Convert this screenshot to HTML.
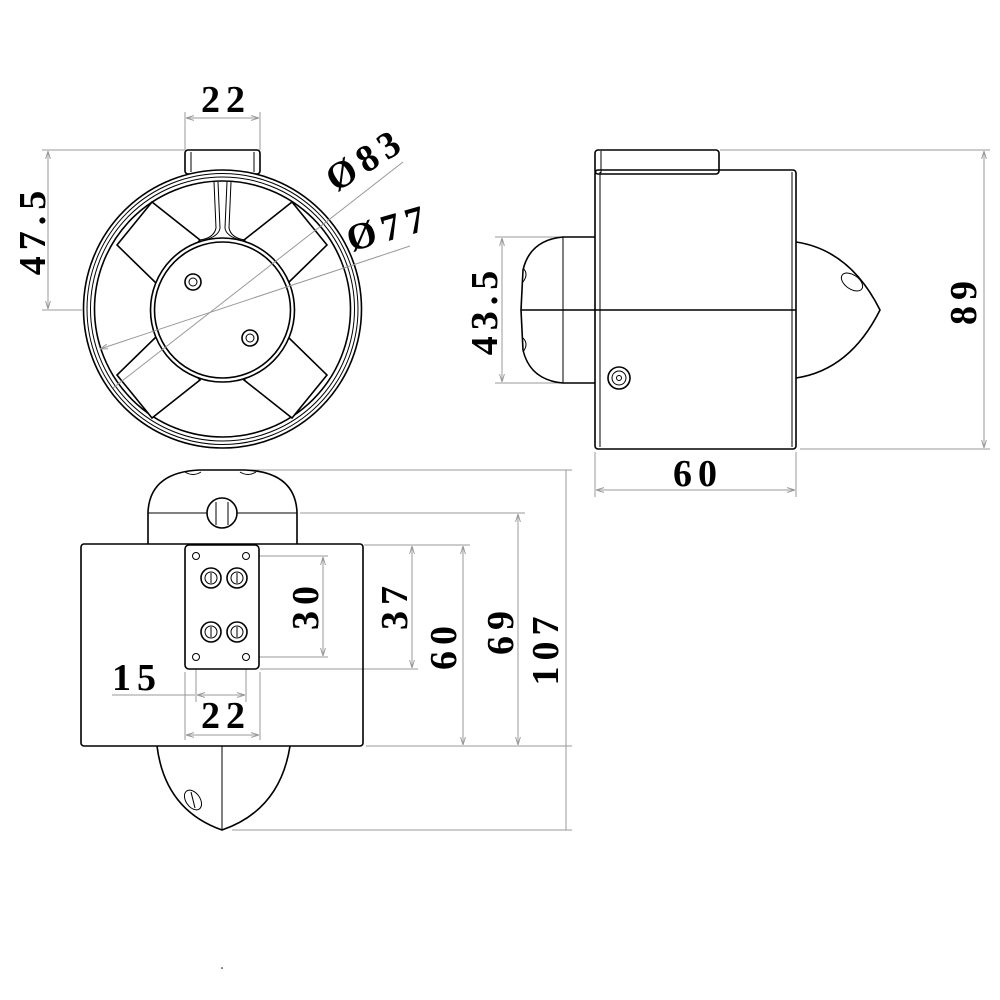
<!DOCTYPE html>
<html><head><meta charset="utf-8"><style>
html,body{margin:0;padding:0;background:#fff}
svg{display:block}
.t{font-family:"Liberation Serif",serif;font-weight:bold;font-size:38px;fill:#000;letter-spacing:6px}
.d{stroke:#999;stroke-width:1;fill:none}
.k{stroke:#000;stroke-width:1.6;fill:none}
.kw{stroke:#000;stroke-width:1.6;fill:#fff}
.th{stroke:#000;stroke-width:1;fill:none}
</style></head><body>
<svg width="1000" height="1000" viewBox="0 0 1000 1000" xmlns="http://www.w3.org/2000/svg">
<defs>
<marker id="a" viewBox="0 0 10 10" refX="10" refY="5" markerWidth="8" markerHeight="8" orient="auto-start-reverse"><path d="M0,2 L10,5 L0,8" fill="none" stroke="#999" stroke-width="1.2"/></marker>
</defs>

<!-- ===== FRONT VIEW ===== -->
<g>
<line class="d" x1="185" y1="112" x2="185" y2="150"/>
<line class="d" x1="260" y1="112" x2="260" y2="150"/>
<line class="d" x1="186" y1="118" x2="259" y2="118" marker-start="url(#a)" marker-end="url(#a)"/>
<text class="t" x="226" y="112" text-anchor="middle">22</text>
<line class="d" x1="42" y1="150" x2="185" y2="150"/>
<line class="d" x1="42" y1="310" x2="82" y2="310"/>
<line class="d" x1="48" y1="151" x2="48" y2="309" marker-start="url(#a)" marker-end="url(#a)"/>
<text class="t" transform="translate(45,230) rotate(-90)" text-anchor="middle">47.5</text>

<rect class="k" x="185" y="150" width="75" height="24" rx="3"/>
<line class="th" x1="191" y1="152" x2="191" y2="172"/>
<line class="th" x1="254" y1="152" x2="254" y2="172"/>
<circle class="kw" cx="222.5" cy="309" r="139"/>
<circle class="th" cx="222.5" cy="309" r="135.5"/>
<circle class="th" cx="222.5" cy="309" r="132"/>
<circle class="k" cx="222.5" cy="309" r="128"/>
<!-- neck -->
<path class="th" d="M214,182 L216,228 Q214,238 200,240 M231,182 L229,228 Q231,238 245,240"/>
<path class="th" d="M218,182 L220,228 Q219,236 205,240 M227,182 L225,228 Q226,236 240,240"/>
<!-- blades -->
<polygon class="kw" points="117,245 152,202 200,240 158,285"/>
<polygon class="kw" points="327,245 292,202 244,240 286,285"/>
<polygon class="kw" points="117,375 152,418 200,380 158,335"/>
<polygon class="kw" points="327,375 292,418 244,380 286,335"/>
<circle class="kw" cx="222.5" cy="310" r="72"/>
<circle class="kw" cx="222.5" cy="310" r="68"/>
<circle class="k" cx="193" cy="282" r="8"/><circle class="th" cx="193" cy="282" r="4"/>
<circle class="k" cx="250" cy="338" r="8"/><circle class="th" cx="250" cy="338" r="4"/>
<line class="d" x1="403" y1="162" x2="113" y2="388"/>
<line class="d" x1="410" y1="246" x2="100" y2="349" marker-end="url(#a)"/>
<text class="t" transform="translate(372,170) rotate(-32)" text-anchor="middle">Ø83</text>
<text class="t" transform="translate(392,240) rotate(-16)" text-anchor="middle">Ø77</text>
</g>

<!-- ===== SIDE VIEW ===== -->
<g>
<line class="d" x1="720" y1="150" x2="990" y2="150"/>
<line class="d" x1="800" y1="449" x2="990" y2="449"/>
<line class="d" x1="984" y1="151" x2="984" y2="448" marker-start="url(#a)" marker-end="url(#a)"/>
<text class="t" transform="translate(976,300) rotate(-90)" text-anchor="middle">89</text>
<line class="d" x1="495" y1="237" x2="563" y2="237"/>
<line class="d" x1="495" y1="383" x2="563" y2="383"/>
<line class="d" x1="502" y1="238" x2="502" y2="382" marker-start="url(#a)" marker-end="url(#a)"/>
<text class="t" transform="translate(497,310) rotate(-90)" text-anchor="middle">43.5</text>
<line class="d" x1="595" y1="452" x2="595" y2="497"/>
<line class="d" x1="796" y1="452" x2="796" y2="497"/>
<line class="d" x1="596" y1="490" x2="795" y2="490" marker-start="url(#a)" marker-end="url(#a)"/>
<text class="t" x="698" y="486" text-anchor="middle">60</text>

<rect class="k" x="595" y="150" width="124" height="24" rx="3"/>
<line class="th" x1="601" y1="151" x2="601" y2="173"/>
<rect class="k" x="595" y="170" width="201" height="279" rx="3"/>
<line class="th" x1="600" y1="172" x2="600" y2="447"/>
<line class="th" x1="792" y1="172" x2="792" y2="447"/>
<path class="k" d="M595,237 L563,237 Q530,240 523,270 L521,310 L523,350 Q530,380 563,383 L595,383"/>
<line class="th" x1="563" y1="237" x2="563" y2="383"/>
<path class="th" d="M523,268 q6,6 0,14 M523,338 q6,6 0,14"/>
<path class="k" d="M796,242 Q850,250 880,310 Q850,370 796,378"/>
<ellipse class="th" cx="852" cy="282" rx="12" ry="7" transform="rotate(35 852 282)"/>
<line class="k" x1="521" y1="310" x2="796" y2="310"/>
<circle class="k" cx="619" cy="378" r="11"/><circle class="th" cx="619" cy="378" r="7"/><circle class="th" cx="619" cy="378" r="2.5"/>
</g>

<!-- ===== BOTTOM VIEW ===== -->
<g>
<line class="d" x1="240" y1="470" x2="572" y2="470"/>
<line class="d" x1="300" y1="513" x2="525" y2="513"/>
<line class="d" x1="364" y1="545" x2="470" y2="545"/>
<line class="d" x1="366" y1="746" x2="572" y2="746"/>
<line class="d" x1="232" y1="830" x2="572" y2="830"/>
<line class="d" x1="256" y1="556" x2="328" y2="556"/>
<line class="d" x1="256" y1="657" x2="328" y2="657"/>
<line class="d" x1="260" y1="669" x2="418" y2="669"/>
<line class="d" x1="323" y1="557" x2="323" y2="656" marker-start="url(#a)" marker-end="url(#a)"/>
<line class="d" x1="412" y1="546" x2="412" y2="668" marker-start="url(#a)" marker-end="url(#a)"/>
<line class="d" x1="463" y1="546" x2="463" y2="745" marker-start="url(#a)" marker-end="url(#a)"/>
<line class="d" x1="518" y1="514" x2="518" y2="745" marker-start="url(#a)" marker-end="url(#a)"/>
<line class="d" x1="566" y1="470" x2="566" y2="830"/>
<text class="t" transform="translate(318,605) rotate(-90)" text-anchor="middle">30</text>
<text class="t" transform="translate(407,605) rotate(-90)" text-anchor="middle">37</text>
<text class="t" transform="translate(456,645) rotate(-90)" text-anchor="middle">60</text>
<text class="t" transform="translate(513,630) rotate(-90)" text-anchor="middle">69</text>
<text class="t" transform="translate(558,648) rotate(-90)" text-anchor="middle">107</text>

<line class="d" x1="196" y1="660" x2="196" y2="702"/>
<line class="d" x1="246" y1="660" x2="246" y2="702"/>
<line class="d" x1="112" y1="695" x2="195" y2="695"/>
<line class="d" x1="197" y1="695" x2="245" y2="695" marker-start="url(#a)" marker-end="url(#a)"/>
<text class="t" x="137" y="690" text-anchor="middle">15</text>
<line class="d" x1="185" y1="672" x2="185" y2="740"/>
<line class="d" x1="260" y1="672" x2="260" y2="740"/>
<line class="d" x1="186" y1="735" x2="259" y2="735" marker-start="url(#a)" marker-end="url(#a)"/>
<text class="t" x="226" y="728" text-anchor="middle">22</text>

<path class="k" d="M148,544 L148,512 Q150,472 200,470 L245,470 Q295,472 297,512 L297,544"/>
<line class="th" x1="148" y1="513" x2="297" y2="513"/>
<path class="th" d="M185,472 q8,5 16,0 M240,472 q8,5 16,0"/>
<circle class="kw" cx="222" cy="513" r="15"/>
<line class="th" x1="216" y1="502" x2="216" y2="525"/><line class="th" x1="228" y1="502" x2="228" y2="525"/>
<rect class="k" x="81" y="544" width="282" height="202" rx="3"/>
<path class="k" d="M157,746 Q165,810 222,830 Q280,810 290,746"/>
<line class="th" x1="222" y1="746" x2="222" y2="830"/>
<ellipse class="th" cx="193" cy="800" rx="7" ry="11" transform="rotate(-35 193 800)"/>
<line class="th" x1="191" y1="792" x2="195" y2="808"/>
<rect class="kw" x="185" y="545" width="74" height="124" rx="4"/>
<g class="th">
<circle cx="196" cy="556" r="3.5"/><circle cx="246" cy="556" r="3.5"/>
<circle cx="196" cy="657" r="3.5"/><circle cx="246" cy="657" r="3.5"/>
</g>
<g>
<circle class="k" cx="211" cy="578" r="10"/><circle class="th" cx="211" cy="578" r="6"/><line class="th" x1="211" y1="573" x2="211" y2="583"/>
<circle class="k" cx="237" cy="578" r="10"/><circle class="th" cx="237" cy="578" r="6"/><line class="th" x1="237" y1="573" x2="237" y2="583"/>
<circle class="k" cx="211" cy="632" r="10"/><circle class="th" cx="211" cy="632" r="6"/><line class="th" x1="211" y1="627" x2="211" y2="637"/>
<circle class="k" cx="237" cy="632" r="10"/><circle class="th" cx="237" cy="632" r="6"/><line class="th" x1="237" y1="627" x2="237" y2="637"/>
</g>
</g>
<circle cx="222" cy="968" r="0.8" fill="#000"/>
</svg>
</body></html>
